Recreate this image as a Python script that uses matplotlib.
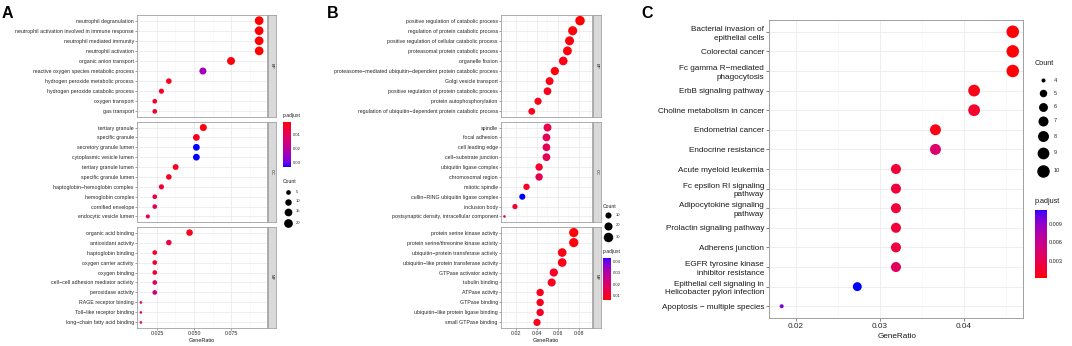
import numpy as np
import matplotlib
matplotlib.use("Agg")
import matplotlib.pyplot as plt
from matplotlib.colors import ListedColormap, Normalize

plt.rcParams['font.family'] = ['Liberation Sans', 'DejaVu Sans']

W, H, DPI = 1072, 346, 100

# ---------------- data ----------------
A_BP_terms = ["neutrophil degranulation", "neutrophil activation involved in immune response",
              "neutrophil mediated immunity", "neutrophil activation", "organic anion transport",
              "reactive oxygen species metabolic process", "hydrogen peroxide metabolic process",
              "hydrogen peroxide catabolic process", "oxygen transport", "gas transport"]
A_BP_ratio = [0.094, 0.094, 0.094, 0.094, 0.075, 0.056, 0.033, 0.028, 0.0235, 0.0235]
A_BP_count = [20, 20, 20, 20, 16, 12, 7, 6, 5, 5]
A_BP_padj = [0.0013, 0.0013, 0.0013, 0.0013, 0.002, 0.024, 0.003, 0.004, 0.005, 0.005]

A_CC_terms = ["tertiary granule", "specific granule", "secretory granule lumen",
              "cytoplasmic vesicle lumen", "tertiary granule lumen", "specific granule lumen",
              "haptoglobin\u2212hemoglobin complex", "hemoglobin complex", "cornified envelope",
              "endocytic vesicle lumen"]
A_CC_ratio = [0.0563, 0.0516, 0.0516, 0.0516, 0.0376, 0.033, 0.028, 0.0235, 0.0235, 0.0188]
A_CC_count = [12, 11, 11, 11, 8, 7, 6, 5, 5, 4]
A_CC_padj = [0.002, 0.003, 0.033, 0.033, 0.004, 0.004, 0.005, 0.008, 0.011, 0.008]

A_MF_terms = ["organic acid binding", "antioxidant activity", "haptoglobin binding",
              "oxygen carrier activity", "oxygen binding", "cell\u2212cell adhesion mediator activity",
              "peroxidase activity", "RAGE receptor binding", "Toll\u2212like receptor binding",
              "long\u2212chain fatty acid binding"]
A_MF_ratio = [0.047, 0.033, 0.0235, 0.0235, 0.0235, 0.0235, 0.0235, 0.0141, 0.0141, 0.0141]
A_MF_count = [10, 7, 5, 5, 5, 5, 5, 3, 3, 3]
A_MF_padj = [0.003, 0.008, 0.004, 0.005, 0.007, 0.013, 0.016, 0.012, 0.011, 0.011]

B_BP_terms = ["positive regulation of catabolic process", "regulation of protein catabolic process",
              "positive regulation of cellular catabolic process", "proteasomal protein catabolic process",
              "organelle fission", "proteasome\u2212mediated ubiquitin\u2212dependent protein catabolic process",
              "Golgi vesicle transport", "positive regulation of protein catabolic process",
              "protein autophosphorylation",
              "regulation of ubiquitin\u2212dependent protein catabolic process"]
B_BP_ratio = [0.081, 0.074, 0.071, 0.069, 0.065, 0.057, 0.052, 0.050, 0.041, 0.035]
B_BP_count = [30, 27, 26, 25, 24, 21, 19, 18, 15, 13]
B_BP_padj = [0.0055, 0.006, 0.0065, 0.006, 0.007, 0.006, 0.007, 0.0075, 0.007, 0.008]

B_CC_terms = ["spindle", "focal adhesion", "cell leading edge", "cell\u2212substrate junction",
              "ubiquitin ligase complex", "chromosomal region", "mitotic spindle",
              "cullin\u2212RING ubiquitin ligase complex", "inclusion body",
              "postsynaptic density, intracellular component"]
B_CC_ratio = [0.050, 0.049, 0.049, 0.049, 0.042, 0.042, 0.030, 0.026, 0.019, 0.009]
B_CC_count = [19, 18, 18, 18, 16, 16, 11, 10, 7, 3]
B_CC_padj = [0.014, 0.016, 0.016, 0.016, 0.010, 0.015, 0.008, 0.0436, 0.010, 0.019]

B_MF_terms = ["protein serine kinase activity", "protein serine/threonine kinase activity",
              "ubiquitin\u2212protein transferase activity", "ubiquitin\u2212like protein transferase activity",
              "GTPase activator activity", "tubulin binding", "ATPase activity", "GTPase binding",
              "ubiquitin\u2212like protein ligase binding", "small GTPase binding"]
B_MF_ratio = [0.075, 0.075, 0.064, 0.064, 0.056, 0.054, 0.043, 0.043, 0.043, 0.040]
B_MF_count = [28, 28, 24, 24, 21, 20, 16, 16, 16, 15]
B_MF_padj = [0.006, 0.006, 0.007, 0.007, 0.009, 0.008, 0.008, 0.008, 0.009, 0.008]

C_terms = ["Bacterial invasion of\nepithelial cells", "Colorectal cancer",
           "Fc gamma R\u2212mediated\nphagocytosis", "ErbB signaling pathway",
           "Choline metabolism in cancer", "Endometrial cancer", "Endocrine resistance",
           "Acute myeloid leukemia", "Fc epsilon RI signaling\npathway",
           "Adipocytokine signaling\npathway", "Prolactin signaling pathway", "Adherens junction",
           "EGFR tyrosine kinase\ninhibitor resistance",
           "Epithelial cell signaling in\nHelicobacter pylori infection",
           "Apoptosis \u2212 multiple species"]
C_ratio = [0.0458, 0.0458, 0.0458, 0.0412, 0.0412, 0.0366, 0.0366, 0.0319, 0.0319, 0.0319,
           0.0319, 0.0319, 0.0319, 0.0273, 0.0183]
C_count = [10, 10, 10, 9, 9, 8, 8, 7, 7, 7, 7, 7, 7, 6, 4]
C_padj = [0.0002, 0.0002, 0.0002, 0.0006, 0.0013, 0.0005, 0.0042, 0.0018, 0.0019, 0.0019,
          0.0019, 0.0022, 0.0036, 0.0113, 0.0092]

A_count_legend = [5, 10, 15, 20]
B_count_legend = [10, 20, 30]
C_count_legend = [4, 5, 6, 7, 8, 9, 10]
A_padj_ticks = [0.01, 0.02, 0.03]
B_padj_ticks = [0.01, 0.02, 0.03, 0.04]
C_padj_ticks = [0.003, 0.006, 0.009]


# ---------------- colour map: red -> blue interpolated in CIELAB ----------------
WHITE = np.array([0.95047, 1.0, 1.08883])
M = np.array([[0.4124, 0.3576, 0.1805], [0.2126, 0.7152, 0.0722], [0.0193, 0.1192, 0.9505]])


def rgb2lab(rgb):
    c = np.asarray(rgb, float)
    lin = np.where(c <= 0.04045, c / 12.92, ((c + 0.055) / 1.055) ** 2.4)
    xyz = M @ lin / WHITE
    f = np.where(xyz > 0.008856, np.cbrt(xyz), 7.787 * xyz + 16 / 116)
    return np.array([116 * f[1] - 16, 500 * (f[0] - f[1]), 200 * (f[1] - f[2])])


def lab2rgb(lab):
    L, a, b = lab
    fy = (L + 16) / 116
    f = np.array([fy + a / 500, fy, fy - b / 200])
    xyz = np.where(f ** 3 > 0.008856, f ** 3, (f - 16 / 116) / 7.787) * WHITE
    lin = np.linalg.inv(M) @ xyz
    lin = np.clip(lin, 0, 1)
    c = np.where(lin <= 0.0031308, 12.92 * lin, 1.055 * lin ** (1 / 2.4) - 0.055)
    return np.clip(c, 0, 1)


lab_r, lab_b = rgb2lab([1, 0, 0]), rgb2lab([0, 0, 1])
cmap = ListedColormap([lab2rgb(lab_r + t * (lab_b - lab_r)) for t in np.linspace(0, 1, 256)])

fig = plt.figure(figsize=(W / DPI, H / DPI), dpi=DPI)
fig.patch.set_facecolor('white')


def add_px(l, t, r, b, **kw):
    return fig.add_axes([l / W, 1 - b / H, (r - l) / W, (b - t) / H], **kw)


def txt(x, y, s, **kw):
    return fig.text(x / W, 1 - y / H, s, **kw)


def size_fn(cmin, cmax, dmin, dmax):
    def f(c):
        c = np.asarray(c, float)
        d = dmin + (dmax - dmin) * np.sqrt(np.clip((c - cmin) / (cmax - cmin), 0, 1))
        return (d * 72 / DPI) ** 2
    return f


GRID = '#EBEBEB'
BORDER = '#A0A0A0'
TXT = '#262626'


def facet(rect, strip, terms, ratio, count, padj, xlim, major, minor, norm, sfn, label, show_x, fs):
    ax = add_px(*rect)
    n = len(terms)
    y = np.arange(n)[::-1]
    ax.scatter(ratio, y, s=sfn(count), c=cmap(norm(np.asarray(padj))), linewidths=0, zorder=3)
    ax.set_xlim(*xlim)
    ax.set_ylim(-0.56, n - 1 + 0.56)
    ax.set_yticks(y)
    ax.set_yticklabels(terms, fontsize=fs, color=TXT)
    ax.set_xticks(major)
    ax.set_xticks(minor, minor=True)
    ax.set_axisbelow(True)
    ax.grid(True, which='major', color=GRID, lw=0.6)
    ax.grid(True, which='minor', axis='x', color='#F4F4F4', lw=0.4)
    ax.tick_params(axis='y', length=1.3, width=0.4, color='#555555', pad=1)
    ax.tick_params(axis='x', which='minor', length=0)
    if show_x:
        ax.tick_params(axis='x', length=1.3, width=0.4, color='#555555', pad=1)
    else:
        ax.set_xticklabels([])
        ax.tick_params(axis='x', length=0)
    for sp in ax.spines.values():
        sp.set_color(BORDER)
        sp.set_linewidth(0.6)
    sax = add_px(*strip)
    sax.set_facecolor('#D9D9D9')
    sax.set_xticks([])
    sax.set_yticks([])
    for sp in sax.spines.values():
        sp.set_color(BORDER)
        sp.set_linewidth(0.6)
    sax.text(0.5, 0.5, label, rotation=270, ha='center', va='center', fontsize=3,
             color='#1A1A1A', transform=sax.transAxes)
    return ax


def colorbar(l, t, r, b, vmin, vmax, ticks, reverse, fs, fmt):
    cax = add_px(l, t, r, b)
    grad = np.linspace(vmin, vmax, 256).reshape(-1, 1)
    cax.imshow(grad, aspect='auto', cmap=cmap, norm=Normalize(vmin, vmax),
               extent=[0, 1, vmin, vmax], origin='lower')
    if reverse:
        cax.set_ylim(vmax, vmin)
    else:
        cax.set_ylim(vmin, vmax)
    cax.set_xticks([])
    cax.yaxis.tick_right()
    cax.set_yticks(ticks)
    cax.set_yticklabels([fmt.format(v) for v in ticks], fontsize=fs, color=TXT)
    cax.tick_params(axis='y', length=0, pad=1.5)
    for sp in cax.spines.values():
        sp.set_visible(False)
    return cax


ov = fig.add_axes([0, 0, 1, 1])
ov.set_xlim(0, W)
ov.set_ylim(H, 0)
ov.axis('off')

FS = 3.75
rows = [(15, 117), (122, 222), (227, 328)]

# ---------------- panel A ----------------
A_norm = Normalize(0.0013, 0.033)
A_size = size_fn(3, 20, 2.6, 8.7)
A_xlim = (0.0115, 0.0993)
A_major = [0.025, 0.050, 0.075]
A_minor = [0.0125, 0.0375, 0.0625, 0.0875]
for (t, b), lab, terms, r_, c_, p_, last in [
        (rows[0], 'BP', A_BP_terms, A_BP_ratio, A_BP_count, A_BP_padj, False),
        (rows[1], 'CC', A_CC_terms, A_CC_ratio, A_CC_count, A_CC_padj, False),
        (rows[2], 'MF', A_MF_terms, A_MF_ratio, A_MF_count, A_MF_padj, True)]:
    ax = facet((137, t, 267, b), (267.5, t, 275.5, b), terms, r_, c_, p_, A_xlim, A_major,
               A_minor, A_norm, A_size, lab, last, FS)
    if last:
        ax.set_xticklabels(["0.025", "0.050", "0.075"], fontsize=FS, color=TXT)
txt(202, 340.5, "GeneRatio", fontsize=4.0, ha='center', va='center', color='#1A1A1A')

txt(283, 115, "p.adjust", fontsize=3.6, ha='left', va='center', color='#1A1A1A')
colorbar(283.3, 121.7, 291, 166.7, 0.0013, 0.033, A_padj_ticks, True, 3.0, "{:.2f}")
txt(283, 181.7, "Count", fontsize=3.6, ha='left', va='center', color='#1A1A1A')
for cnt, yy in zip(A_count_legend, [192, 201.5, 211.5, 223]):
    ov.scatter([287.7], [yy], s=A_size([cnt]), c='black', linewidths=0)
    txt(295.5, yy, str(cnt), fontsize=3.0, ha='left', va='center', color=TXT)

# ---------------- panel B ----------------
B_norm = Normalize(0.0055, 0.0436)
B_size = size_fn(3, 30, 2.6, 9.5)
B_xlim = (0.0057, 0.0924)
B_major = [0.02, 0.04, 0.06, 0.08]
B_minor = [0.01, 0.03, 0.05, 0.07, 0.09]
for (t, b), lab, terms, r_, c_, p_, last in [
        (rows[0], 'BP', B_BP_terms, B_BP_ratio, B_BP_count, B_BP_padj, False),
        (rows[1], 'CC', B_CC_terms, B_CC_ratio, B_CC_count, B_CC_padj, False),
        (rows[2], 'MF', B_MF_terms, B_MF_ratio, B_MF_count, B_MF_padj, True)]:
    ax = facet((501, t, 592, b), (592.5, t, 600.5, b), terms, r_, c_, p_, B_xlim, B_major,
               B_minor, B_norm, B_size, lab, last, FS)
    if last:
        ax.set_xticklabels(["0.02", "0.04", "0.06", "0.08"], fontsize=FS, color=TXT)
txt(546, 340.5, "GeneRatio", fontsize=4.0, ha='center', va='center', color='#1A1A1A')

txt(603, 206, "Count", fontsize=3.6, ha='left', va='center', color='#1A1A1A')
for cnt, yy in zip(B_count_legend, [214.5, 225.5, 237]):
    ov.scatter([607.5], [yy], s=B_size([cnt]), c='black', linewidths=0)
    txt(615.5, yy, str(cnt), fontsize=3.0, ha='left', va='center', color=TXT)
txt(603, 251.5, "p.adjust", fontsize=3.6, ha='left', va='center', color='#1A1A1A')
colorbar(603.3, 257.5, 611, 300.5, 0.0055, 0.0436, B_padj_ticks, False, 3.0, "{:.2f}")

# ---------------- panel C ----------------
C_norm = Normalize(0.0001, 0.0113)
C_size = size_fn(4, 10, 4.0, 12.5)
cax_ = add_px(769, 20, 1023, 318)
nC = len(C_terms)
yC = np.arange(nC)[::-1]
cax_.scatter(C_ratio, yC, s=C_size(C_count), c=cmap(C_norm(np.asarray(C_padj))), linewidths=0, zorder=3)
cax_.set_xlim(0.01679, 0.04702)
cax_.set_ylim(-0.6, nC - 1 + 0.6)
cax_.set_yticks(yC)
cax_.set_yticklabels(C_terms, fontsize=5.9, color='#1A1A1A', linespacing=1.35)
cax_.set_xticks([0.02, 0.03, 0.04])
cax_.set_xticklabels(["0.02", "0.03", "0.04"], fontsize=5.9, color=TXT)
cax_.set_xticks([0.025, 0.035, 0.045], minor=True)
cax_.set_axisbelow(True)
cax_.grid(True, which='major', color=GRID, lw=0.6)
cax_.grid(True, which='minor', axis='x', color='#F4F4F4', lw=0.4)
cax_.tick_params(axis='both', which='major', length=2, width=0.5, color='#555555', pad=1.5)
cax_.tick_params(axis='x', which='minor', length=0)
for sp in cax_.spines.values():
    sp.set_color(BORDER)
    sp.set_linewidth(0.7)
txt(897, 337, "GeneRatio", fontsize=5.9, ha='center', va='center', color='#1A1A1A')

txt(1035, 63.5, "Count", fontsize=5.2, ha='left', va='center', color='#1A1A1A')
for cnt, yy in zip(C_count_legend, [80, 93.3, 106.7, 120.7, 136, 152.7, 170.7]):
    ov.scatter([1042.7], [yy], s=C_size([cnt]), c='black', linewidths=0)
    txt(1053.5, yy, str(cnt), fontsize=4.0, ha='left', va='center', color=TXT)
txt(1035, 201.7, "p.adjust", fontsize=5.2, ha='left', va='center', color='#1A1A1A')
colorbar(1035, 210, 1046.7, 278.3, 0.0001, 0.0113, C_padj_ticks, False, 4.0, "{:.3f}")

# ---------------- panel letters ----------------
for x, s in [(2, "A"), (327, "B"), (641, "C")]:
    txt(x, 13, s, fontsize=11.5, fontweight='bold', ha='left', va='center', color='black')

fig.savefig("out.png", dpi=DPI)
